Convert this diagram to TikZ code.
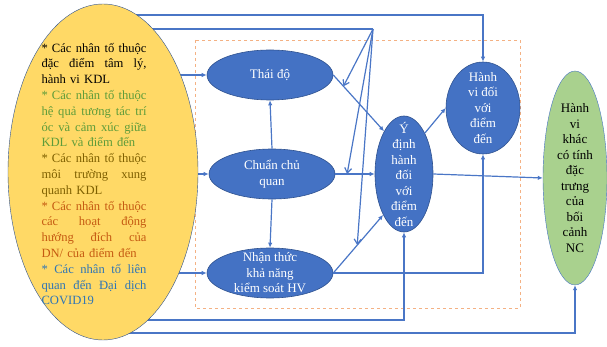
\documentclass[tikz,border=0pt]{standalone}
\usepackage{fontspec}
\setmainfont{Liberation Serif}
\usepackage{tikz}
\usetikzlibrary{arrows.meta,shapes.geometric,backgrounds}
\definecolor{fillblue}{HTML}{4472C4}
\definecolor{edgeblue}{HTML}{2F528F}
\definecolor{lineblue}{HTML}{4A76C6}
\definecolor{fillyel}{HTML}{FFD966}
\definecolor{fillgreen}{HTML}{A9D18E}
\definecolor{dashorange}{HTML}{F4B183}
\definecolor{kgreen}{HTML}{5E9C3A}
\definecolor{kolive}{HTML}{7F6000}
\definecolor{korange}{HTML}{C55A11}
\definecolor{kblue}{HTML}{2E75B6}
\newcommand{\jline}[1]{\leavevmode\hbox to 105pt{\spaceskip=0.25em plus 1fil\relax #1}}

\begin{document}
\begin{tikzpicture}[x=1pt, y=-1pt,
  bell/.style={ellipse, draw=edgeblue, fill=fillblue, inner sep=0pt, line width=0.6pt},
  wtxt/.style={text=white, align=center, font=\fontsize{13}{15.5}\selectfont},
  ytxt/.style={align=left, text width=105pt, xshift=-9pt, yshift=-2pt, font=\fontsize{12.6}{15.8}\selectfont},
  arr/.style={-{Latex[length=5pt,width=4.5pt]}, line width=1.2pt, color=lineblue},
  barb/.style={-{Straight Barb[length=5pt,width=7pt]}, line width=1.2pt, color=lineblue},
  plain/.style={line width=1.2pt, color=lineblue},
  dbox/.style={draw=dashorange, dashed, line width=0.8pt}
]
\useasboundingbox (0,0) rectangle (607,347);

\node[ellipse, draw=edgeblue, fill=fillyel, inner sep=0pt, minimum width=190pt, minimum height=336pt,
  label={[ytxt]center:{%
    \jline{* Các nhân tố thuộc}\\ \jline{đặc điểm tâm lý,}\\ hành vi KDL\\
    \color{kgreen}\jline{* Các nhân tố thuộc}\\ \jline{hệ quả tương tác trí}\\ \jline{óc và cảm xúc giữa}\\ KDL và điểm đến\\
    \color{kolive}\jline{* Các nhân tố thuộc}\\ \jline{môi trường xung}\\ quanh KDL\\
    \color{korange}\jline{* Các nhân tố thuộc}\\ \jline{các hoạt động}\\ \jline{hướng đích của}\\ DN/ của điểm đến\\
    \color{kblue}\jline{* Các nhân tố liên}\\ \jline{quan đến Đại dịch}\\ COVID19}}] (yel) at (103,172) {};

\node[bell, minimum width=126pt, minimum height=50pt, label={[wtxt]center:Thái độ}] (td) at (270,75) {};
\node[bell, minimum width=126pt, minimum height=50pt, label={[wtxt]center:{Chuẩn chủ\\quan}}] (cc) at (272,174) {};
\node[bell, minimum width=126pt, minimum height=50pt, label={[wtxt]center:{Nhận thức\\khả năng\\kiểm soát HV}}] (nt) at (270,273) {};
\node[bell, minimum width=58pt, minimum height=116pt, label={[wtxt]center:{Ý\\định\\hành\\đối\\với\\điểm\\đến}}] (yd) at (404,174) {};
\node[bell, minimum width=74pt, minimum height=92pt, label={[wtxt]center:{Hành\\vi đối\\với\\điểm\\đến}}] (hv) at (483,108) {};
\node[ellipse, draw=fillblue, fill=fillgreen, inner sep=0pt, minimum width=64pt, minimum height=214pt,
  label={[wtxt, text=black]center:{Hành\\vi\\khác\\có tính\\đặc\\trưng\\của\\bối\\cảnh\\NC}}] (gr) at (575,178) {};
\coordinate (fan) at (373,29);

\begin{scope}[on background layer]
\draw[dbox] (195,40) rectangle (520,308);
\draw[arr] (yel.center |- 0,15) -| (hv.north);
\draw[plain] (yel.center |- fan) -- (fan);
\draw[arr] (yel.center |- td.west) -- (td.west);
\draw[arr] (yel.center |- cc.west) -- (cc.west);
\draw[arr] (yel.center |- nt.west) -- (nt.west);
\draw[arr] (yel.center |- 0,320) -| (yd.south);
\draw[arr] (yel.center |- 0,333) -| (gr.south);
\end{scope}

\draw[arr] (td.east) -- coordinate[pos=0.2] (m1) (yd.115);
\draw[arr] (cc.east) -- coordinate[pos=0.3] (m2) (yd.west);
\draw[arr] (nt.east) -- coordinate[pos=0.48] (m3) (yd.243);
\draw[arr] (nt.east) -| (hv.south);
\draw[arr] (cc.north) -- (td.south);
\draw[arr] (cc.south) -- (nt.north);
\draw[arr] (yd.63) -- (hv.west);
\draw[arr] (yd.east) -- (gr.west);
\draw[barb] (fan) -- (m1);
\draw[barb] (fan) -- (m2);
\draw[barb] (fan) -- (m3);
\end{tikzpicture}
\end{document}
